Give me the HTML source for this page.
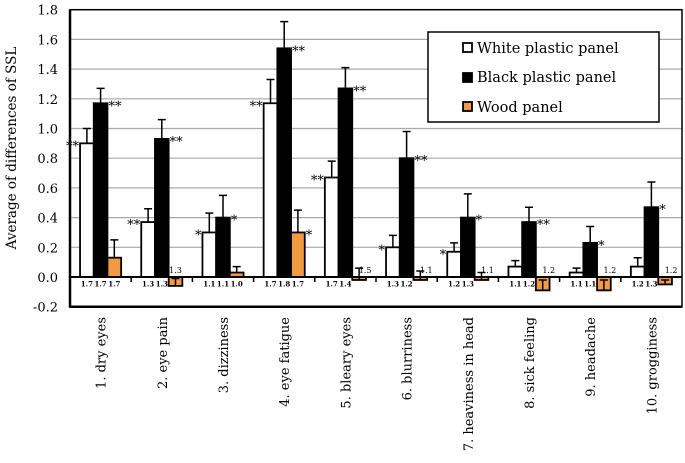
<!DOCTYPE html>
<html><head><meta charset="utf-8"><style>
body{margin:0;background:#fff;}
text{font-family:"DejaVu Serif","Liberation Serif",serif !important;}
</style></head><body>
<svg width="685" height="458" viewBox="0 0 685 458" font-family="DejaVu Serif, Liberation Serif, serif">
<g id="grid"></g>
<g id="bars"></g>
<g id="frame"></g>
<g id="labels"></g>
<text x="0" y="0" font-size="13.5" text-anchor="middle" transform="translate(16,148) rotate(-90)">Average of differences of SSL</text>
<g>
<rect x="428" y="32" width="231" height="90" fill="#fff" stroke="#000" stroke-width="1.5"/>
<rect x="463" y="43" width="9" height="9" fill="#fff" stroke="#000" stroke-width="1.8"/>
<text x="477" y="53" font-size="14.5">White plastic panel</text>
<rect x="463" y="73" width="9" height="9" fill="#000" stroke="#000" stroke-width="1.8"/>
<text x="477" y="82" font-size="14.5">Black plastic panel</text>
<rect x="463" y="102" width="9" height="9" fill="#f39a3e" stroke="#000" stroke-width="1.8"/>
<text x="477" y="112" font-size="14.5">Wood panel</text>
</g>
</svg>
<script>
const categories=["1. dry eyes","2. eye pain","3. dizziness","4. eye fatigue","5. bleary eyes","6. blurriness","7. heaviness in head","8. sick feeling","9. headache","10. grogginess"];
const whiteVals=[0.9,0.37,0.3,1.17,0.67,0.2,0.17,0.07,0.03,0.07];
const whiteErr=[0.1,0.09,0.13,0.16,0.11,0.08,0.06,0.04,0.03,0.06];
const blackVals=[1.17,0.93,0.4,1.54,1.27,0.8,0.4,0.37,0.23,0.47];
const blackErr=[0.1,0.13,0.15,0.18,0.14,0.18,0.16,0.1,0.11,0.17];
const woodVals=[0.13,-0.06,0.03,0.3,-0.02,-0.02,-0.02,-0.09,-0.09,-0.05];
const woodErr=[0.12,0.05,0.04,0.15,0.08,0.06,0.05,0.07,0.07,0.03];
const whiteSig=["**","**","*","**","**","*","*","","",""];
const blackSig=["**","**","*","**","**","**","*","**","*","*"];
const woodSig=["","","","*","","","","","",""];
const whiteN=["1.7","1.3","1.1","1.7","1.7","1.3","1.2","1.1","1.1","1.2"];
const blackN=["1.7","1.3","1.1","1.8","1.4","1.2","1.3","1.2","1.1","1.3"];
const woodN=["1.7","1.3","1.0","1.7","1.5","1.1","1.1","1.2","1.2","1.2"];
const yTicks=[-0.2,0,0.2,0.4,0.6,0.8,1.0,1.2,1.4,1.6,1.8];

const X0=70,X1=682,Y0=277,PPU=29.7/0.2;
const y=v=>Y0-v*PPU;
const cw=(X1-X0)/categories.length;
const bw=13.7;
const NS="http://www.w3.org/2000/svg";
function mk(tag,attrs,parent,txt){const e=document.createElementNS(NS,tag);for(const k in attrs)e.setAttribute(k,attrs[k]);if(txt!==undefined)e.textContent=txt;document.getElementById(parent).appendChild(e);return e;}

yTicks.forEach(t=>{
  if(t>0&&t<1.79){const g=mk('line',{x1:X0,x2:X1,y1:y(t),y2:y(t),stroke:'#a8a8a8','stroke-width':1.2},'grid');
  
  }
  const l=mk('text',{x:58,y:y(t)+5,'text-anchor':'end','font-size':13},'labels',t.toFixed(1));
  
  
});

function bar(x,v,e,fill,name){
  const top=Math.min(y(v),y(0)),h=Math.abs(y(v)-y(0));
  const r=mk('rect',{x:x,y:top,width:bw,height:h,fill:fill,stroke:'#000','stroke-width':1.8},'bars');
  
  
  const cx=x+bw/2, ye=y(v+e);
  const eb=mk('path',{d:`M${cx},${y(v)}V${ye}M${cx-4},${ye}H${cx+4}`,stroke:'#000','stroke-width':1.5,fill:'none'},'bars');
  
  
}
function txt(x,yy,s,size,anchor,name,weight){
  const t=mk('text',{x:x,y:yy,'font-size':size,'text-anchor':anchor||'middle','font-weight':weight||'normal'},'labels',s);
  
  
}
categories.forEach((c,i)=>{
  const gx=X0+i*cw+(cw-3*bw)/2;
  bar(gx,whiteVals[i],whiteErr[i],'#fff','bar-white-'+(i+1));
  bar(gx+bw,blackVals[i],blackErr[i],'#000','bar-black-'+(i+1));
  bar(gx+2*bw,woodVals[i],woodErr[i],'#f39a3e','bar-wood-'+(i+1));
  if(whiteSig[i])txt(gx-1,y(whiteVals[i])+7,whiteSig[i],13,'end','significance-white');
  if(blackSig[i])txt(gx+2*bw+1,y(blackVals[i])+7,blackSig[i],13,'start','significance-black');
  if(woodSig[i])txt(gx+3*bw+1,y(woodVals[i])+7,woodSig[i],13,'start','significance-wood');
  txt(gx+bw/2,Y0+9.5,whiteN[i],7,'middle','n-label','bold');
  txt(gx+1.5*bw,Y0+9.5,blackN[i],7,'middle','n-label','bold');
  if(woodVals[i]<0) txt(gx+2.5*bw+(i>=4?6:0),Y0-4,woodN[i],8,'middle','n-label');
  else txt(gx+2.5*bw,Y0+9.5,woodN[i],7,'middle','n-label','bold');
  const cx=X0+(i+0.5)*cw;
  const t=mk('text',{x:0,y:0,'font-size':13,'text-anchor':'end',transform:`translate(${cx+5},${317}) rotate(-90)`},'labels',c);
  
  
  if(i>0){const tk=mk('line',{x1:X0+i*cw,x2:X0+i*cw,y1:Y0,y2:Y0+5,stroke:'#000','stroke-width':1.5},'frame');
  
  }
});
const fr=mk('rect',{x:X0,y:y(1.8),width:X1-X0,height:y(-0.2)-y(1.8),fill:'none',stroke:'#000','stroke-width':1.5},'frame');


const la=mk('line',{x1:X0,x2:X0,y1:y(1.8),y2:y(-0.2)+1,stroke:'#000','stroke-width':2.5},'frame');


const zl=mk('line',{x1:X0,x2:X1,y1:Y0,y2:Y0,stroke:'#000','stroke-width':2},'frame');


const bl=mk('line',{x1:X0,x2:X1,y1:y(-0.2),y2:y(-0.2),stroke:'#000','stroke-width':2.5},'frame');


</script>
</body></html>
